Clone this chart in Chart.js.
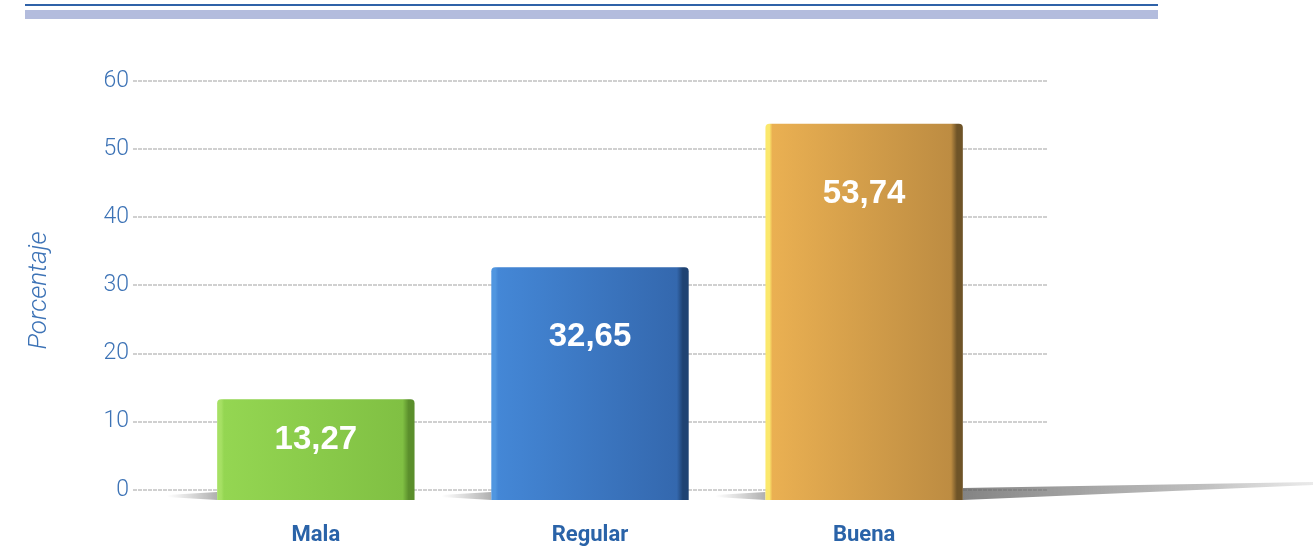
<!DOCTYPE html>
<html>
<head>
<meta charset="utf-8">
<script src="https://cdn.jsdelivr.net/npm/chart.js@4/dist/chart.umd.min.js"></script>
<style>
  body { margin: 0; background: #fff; }
  .rule { position: absolute; left: 25px; width: 1133px; }
  #line { top: 4px; height: 2px; background: #2f62a8; }
  #band { top: 10px; height: 9px; background: #b3bcdd; }
  #wrap { position: absolute; left: 0; top: 0; width: 1313px; height: 547px; }
</style>
</head>
<body>
<div id="line" class="rule"></div>
<div id="band" class="rule"></div>
<div id="wrap"><canvas id="grafico"></canvas></div>
<script>
const categorias = ["Mala", "Regular", "Buena"];
const porcentajes = [13.27, 32.65, 53.74];
const etiquetas = ["13,27", "32,65", "53,74"];
const ticksY = [0, 10, 20, 30, 40, 50, 60];

// colores de cada barra: borde claro, cara izq, cara der, canto oscuro
const coloresBarra = [
  ["#a6e064", "#94d652", "#80c043", "#5b8f2c"],
  ["#5096e0", "#4487d6", "#3468ae", "#1f4373"],
  ["#fbe86c", "#eab052", "#bd8c42", "#6f5428"]
];

function degradado(ctx) {
  const chart = ctx.chart;
  const x = chart.scales.x;
  const c = coloresBarra[ctx.dataIndex] || coloresBarra[0];
  if (!x) return c[1];
  const centro = x.getPixelForValue(ctx.dataIndex);
  const mitad = (x.getPixelForValue(1) - x.getPixelForValue(0)) * 0.72 / 2;
  if (!isFinite(centro) || !isFinite(mitad) || mitad <= 0) return c[1];
  const g = chart.ctx.createLinearGradient(centro - mitad, 0, centro + mitad, 0);
  g.addColorStop(0, c[0]);
  g.addColorStop(0.02, c[0]);
  g.addColorStop(0.035, c[1]);
  g.addColorStop(0.94, c[2]);
  g.addColorStop(0.97, c[3]);
  g.addColorStop(1, c[3]);
  return g;
}

// sombras sobre el piso
const sombraPiso = {
  id: "sombraPiso",
  beforeDatasetsDraw(chart) {
    const ctx = chart.ctx;
    const meta = chart.getDatasetMeta(0);
    ctx.save();
    meta.data.forEach((bar, i) => {
      const izq = bar.x - bar.width / 2;
      const g = ctx.createLinearGradient(izq - 50, 0, izq, 0);
      g.addColorStop(0, "rgba(120,120,120,0)");
      g.addColorStop(1, "rgba(110,110,110,0.55)");
      ctx.fillStyle = g;
      ctx.beginPath();
      ctx.moveTo(izq, bar.base - 8);
      ctx.lineTo(izq - 50, bar.base - 5);
      ctx.lineTo(izq - 50, bar.base - 3);
      ctx.lineTo(izq, bar.base);
      ctx.closePath();
      ctx.fill();
    });
    const ult = meta.data[meta.data.length - 1];
    const der = ult.x + ult.width / 2;
    const g2 = ctx.createLinearGradient(der, 0, chart.width, 0);
    g2.addColorStop(0, "rgba(90,90,90,0.75)");
    g2.addColorStop(0.7, "rgba(130,130,130,0.5)");
    g2.addColorStop(1, "rgba(170,170,170,0.25)");
    ctx.fillStyle = g2;
    ctx.beginPath();
    ctx.moveTo(der, ult.base - 12);
    ctx.lineTo(chart.width, ult.base - 18);
    ctx.lineTo(chart.width, ult.base - 15);
    ctx.lineTo(der, ult.base);
    ctx.closePath();
    ctx.fill();
    ctx.restore();
  }
};

// valores blancos dentro de las barras
const valores = {
  id: "valores",
  afterDatasetsDraw(chart) {
    const ctx = chart.ctx;
    const meta = chart.getDatasetMeta(0);
    ctx.save();
    ctx.fillStyle = "#ffffff";
    ctx.font = "bold 33px 'Liberation Sans', Arial, sans-serif";
    ctx.textAlign = "center";
    ctx.textBaseline = "middle";
    meta.data.forEach((bar, i) => {
      const y = Math.min(bar.y + 70, (bar.y + bar.base) / 2 - 10);
      ctx.fillText(etiquetas[i], bar.x, y);
    });
    ctx.restore();
  }
};

new Chart(document.getElementById("grafico"), {
  type: "bar",
  data: {
    datasets: [{
      data: categorias.map((c, i) => ({ x: i, y: porcentajes[i] })),
      backgroundColor: degradado,
      borderRadius: { topLeft: 4, topRight: 4 },
      borderSkipped: "bottom",
      barPercentage: 0.72,
      categoryPercentage: 1,
      base: -1.5
    }]
  },
  options: {
    responsive: true,
    maintainAspectRatio: false,
    animation: false,
    layout: { padding: { top: 81, right: 266, left: 24, bottom: 0 } },
    plugins: { legend: { display: false }, tooltip: { enabled: false } },
    scales: {
      x: {
        type: "linear",
        offset: false,
        min: -0.667,
        max: 2.667,
        afterBuildTicks: (s) => { s.ticks = categorias.map((c, i) => ({ value: i })); },
        afterFit: (s) => { s.height = 47; },
        grid: { display: false, offset: false },
        border: { display: false },
        ticks: {
          callback: (v) => categorias[v],
          color: "#2a63a8",
          font: { family: "Roboto", size: 22, weight: "bold" },
          padding: 14
        }
      },
      y: {
        min: -1.5,
        max: 60,
        afterBuildTicks: (s) => { s.ticks = ticksY.map(v => ({ value: v })); },
        afterFit: (s) => { s.width = 133 - 24; },
        grid: {
          color: "rgba(150,150,150,0.45)",
          lineWidth: 2,
          drawTicks: false
        },
        border: { display: false, dash: [4, 1] },
        ticks: {
          color: "#3d73b6",
          font: { family: "Roboto", size: 23, weight: "300" },
          padding: 4
        },
        title: {
          display: true,
          text: "Porcentaje",
          color: "#3d73b6",
          font: { family: "Roboto", size: 26, style: "italic", weight: "300" },
          padding: 0
        }
      }
    }
  },
  plugins: [sombraPiso, valores]
});
</script>
</body>
</html>
